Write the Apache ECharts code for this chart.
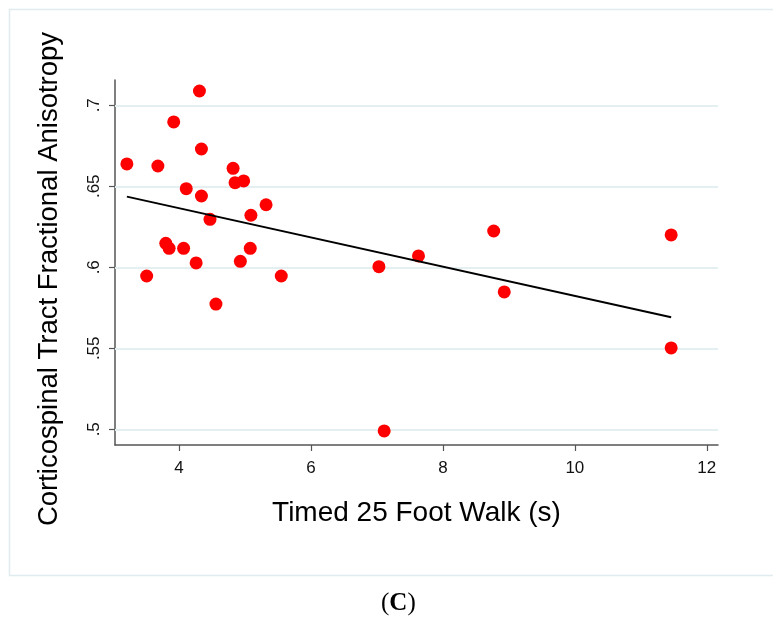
<!DOCTYPE html>
<html><head><meta charset="utf-8">
<script src="https://cdn.jsdelivr.net/npm/echarts@6/dist/echarts.min.js"></script>
<style>html,body{margin:0;padding:0;background:#fff}#c{width:773px;height:625px}</style>
</head><body><div id="c"></div>
<script>
const walkTime = [3.21,3.51,3.68,3.92,3.80,3.85,4.07,4.11,4.31,4.34,4.34,4.26,4.47,4.56,4.82,4.85,4.98,4.93,5.09,5.08,5.32,5.55,7.03,7.11,7.63,8.77,8.93,11.46,11.46];
const fa       = [0.6638,0.5946,0.6625,0.6897,0.6148,0.6117,0.6117,0.6485,0.7088,0.673,0.644,0.6027,0.6296,0.5773,0.6611,0.6522,0.6533,0.6037,0.6321,0.6117,0.6386,0.5946,0.6004,0.499,0.607,0.6224,0.5848,0.620,0.5502];
const fitX = [3.21, 11.46];
const fitY = [0.6436, 0.5691];
const xTicks = [4, 6, 8, 10, 12];
const yTicks = [0.5, 0.55, 0.6, 0.65, 0.7];
const yTitle = 'Corticospinal Tract Fractional Anisotropy';
const xTitle = 'Timed 25 Foot Walk (s)';

const chart = echarts.init(document.getElementById('c'), null, {renderer:'canvas'});
const font = 'Liberation Sans, Arial, sans-serif';
chart.setOption({
  animation:false,
  graphic:[
    {type:'rect', shape:{x:9.5,y:9.5,width:800,height:566}, style:{fill:'none',stroke:'#e0ecef',lineWidth:1.5}, z:0},
    {type:'text', x:49, y:279, rotation:Math.PI/2, style:{text:yTitle, font:'27.5px Liberation Sans, Arial, sans-serif', fill:'#000', textAlign:'center', textVerticalAlign:'middle'}},
    {type:'text', left:381, top:591, style:{
      rich:{r:{fontFamily:'Liberation Serif, serif',fontSize:25,fill:'#000'},b:{fontFamily:'Liberation Serif, serif',fontSize:25,fontWeight:'bold',fill:'#000'}},
      text:'{r|(}{b|C}{r|)}'}}
  ],
  grid:{left:115, right:55, top:80, bottom:180},
  xAxis:{type:'value', min:3.03, max:12.17,
    name:xTitle, nameLocation:'middle', nameGap:54,
    nameTextStyle:{fontFamily:font, fontSize:28, color:'#000'},
    axisLine:{lineStyle:{color:'#555',width:1.5}},
    axisTick:{customValues:xTicks, length:6, lineStyle:{color:'#555',width:1.2}},
    axisLabel:{customValues:xTicks, fontFamily:font, fontSize:17, color:'#111', margin:15},
    splitLine:{show:false}},
  yAxis:{type:'value', min:0.4903, max:0.7156,
    axisLine:{show:true, lineStyle:{color:'#555',width:1.5}},
    axisTick:{show:true, customValues:yTicks, length:6, lineStyle:{color:'#555',width:1.2}},
    axisLabel:{customValues:yTicks, rotate:90, fontFamily:font, fontSize:17, color:'#111', margin:12,
      formatter:v=>String(v).replace(/^0/,'')},
    splitLine:{show:false}},
  series:[
    {type:'scatter', data:[], z:1,
      markLine:{silent:true, symbol:'none', label:{show:false}, z:1,
        lineStyle:{color:'#e4eff2', width:2, type:'solid'},
        data:yTicks.map(v=>({yAxis:v}))}},
    {type:'scatter', data:walkTime.map((x,i)=>[x,fa[i]]), symbolSize:13,
      itemStyle:{color:'#ff0000',opacity:1}, z:3},
    {type:'line', data:fitX.map((x,i)=>[x,fitY[i]]), showSymbol:false, symbol:'none',
      lineStyle:{color:'#000', width:2}, z:4}
  ]
});
</script></body></html>
